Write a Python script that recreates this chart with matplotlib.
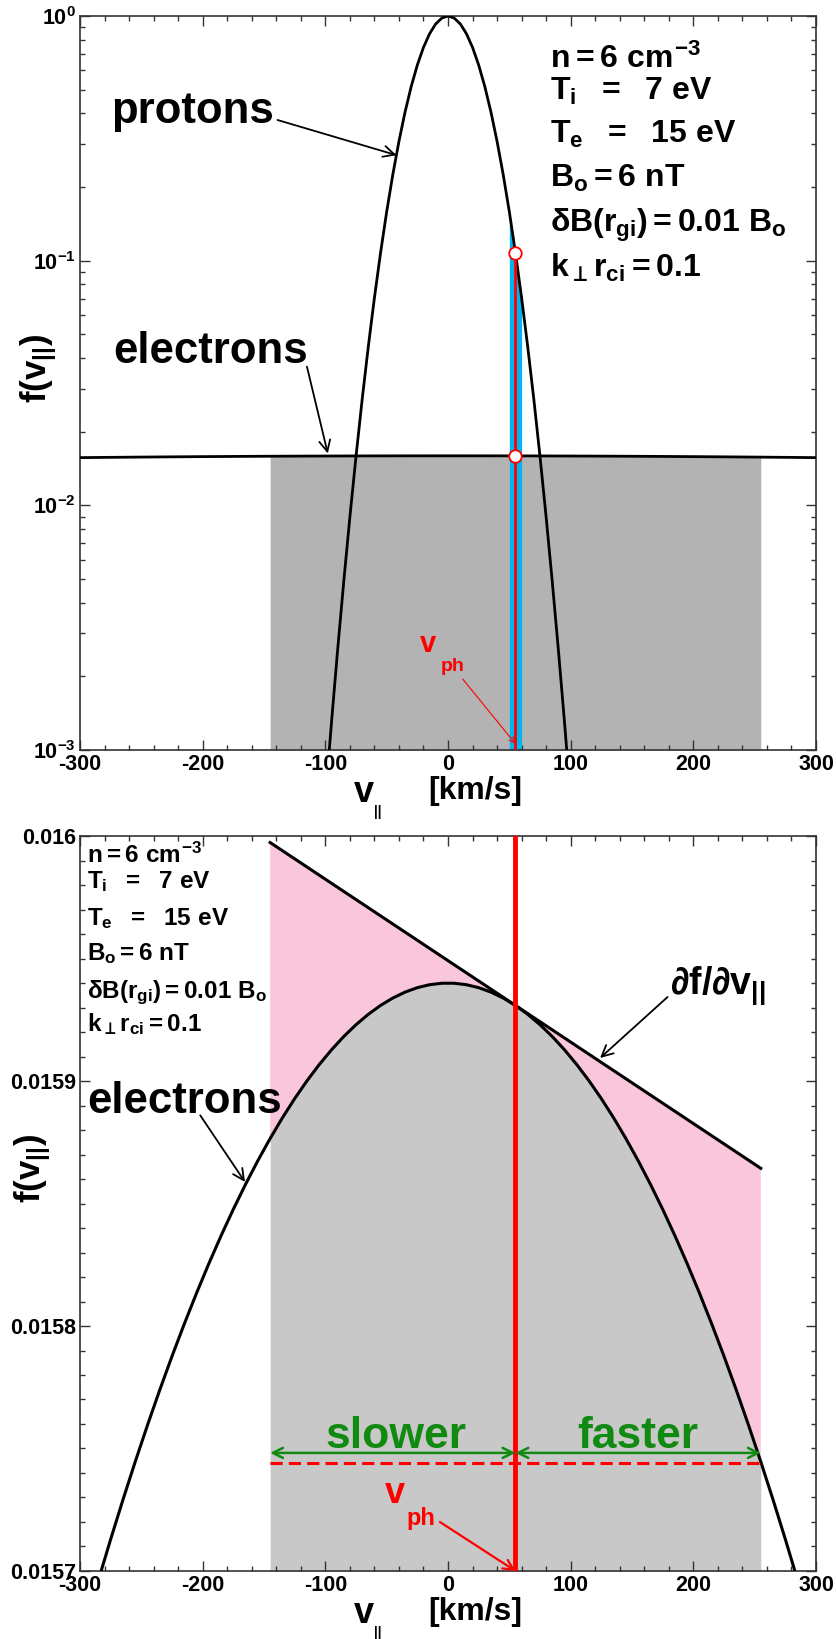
import numpy as np
import matplotlib.pyplot as plt

plt.rcParams['font.family'] = ['Liberation Sans', 'DejaVu Sans']
plt.rcParams['font.weight'] = 'bold'
plt.rcParams['mathtext.fontset'] = 'custom'
plt.rcParams['mathtext.rm'] = 'Liberation Sans:bold'
plt.rcParams['mathtext.it'] = 'Liberation Sans:bold'
plt.rcParams['mathtext.bf'] = 'Liberation Sans:bold'
plt.rcParams['mathtext.sf'] = 'Liberation Sans:bold'
plt.rcParams['mathtext.cal'] = 'STIXGeneral:bold'   # only used for the perp sign
plt.rcParams['mathtext.fallback'] = 'stix'

# proton distribution (normalised to 1)
v_p = [-100, -95, -90, -85, -80, -75, -70, -65, -60, -55, -50, -45, -40, -35, -30,
       -25, -20, -15, -10, -5, 0, 5, 10, 15, 20, 25, 30, 35, 40, 45, 50, 55, 60,
       65, 70, 75, 80, 85, 90, 95, 100]
f_p = [0.000631, 0.001294, 0.002559, 0.004875, 0.008954, 0.01585, 0.02704, 0.04446,
       0.07047, 0.1076, 0.1585, 0.2249, 0.3076, 0.4055, 0.5152, 0.6310, 0.7447,
       0.8472, 0.9290, 0.9817, 1.0, 0.9817, 0.9290, 0.8472, 0.7447, 0.6310, 0.5152,
       0.4055, 0.3076, 0.2249, 0.1585, 0.1076, 0.07047, 0.04446, 0.02704, 0.01585,
       0.008954, 0.004875, 0.002559, 0.001294, 0.000631]

# electron distribution
v_e = [-305, -295, -285, -275, -265, -255, -245, -235, -225, -215, -205, -195,
       -185, -175, -165, -155, -145, -135, -125, -115, -105, -95, -85, -75, -65,
       -55, -45, -35, -25, -15, -5, 5, 15, 25, 35, 45, 55, 65, 75, 85, 95, 105,
       115, 125, 135, 145, 155, 165, 175, 185, 195, 205, 215, 225, 235, 245, 255,
       265, 275, 285, 295, 305, 315]
f_e = [0.01566120, 0.01567903, 0.01569629, 0.01571297, 0.01572907, 0.01574459,
       0.01575953, 0.01577389, 0.01578766, 0.01580084, 0.01581343, 0.01582544,
       0.01583685, 0.01584767, 0.01585789, 0.01586752, 0.01587655, 0.01588499,
       0.01589282, 0.01590006, 0.01590670, 0.01591273, 0.01591817, 0.01592300,
       0.01592723, 0.01593086, 0.01593388, 0.01593630, 0.01593811, 0.01593932,
       0.01593992, 0.01593992, 0.01593932, 0.01593811, 0.01593630, 0.01593388,
       0.01593086, 0.01592723, 0.01592300, 0.01591817, 0.01591273, 0.01590670,
       0.01590006, 0.01589282, 0.01588499, 0.01587655, 0.01586752, 0.01585789,
       0.01584767, 0.01583685, 0.01582544, 0.01581343, 0.01580084, 0.01578766,
       0.01577389, 0.01575953, 0.01574459, 0.01572907, 0.01571297, 0.01569629,
       0.01567903, 0.01566120, 0.01564279]

# tangent (df/dv) at v_ph, end points
tan_v = [-145, 255]
tan_f = [0.01599735, 0.01586437]

v_ph = 55
res_lo, res_hi = -145, 255       # shaded resonance window
band_lo, band_hi = 50, 60        # blue band, top panel
slow_fast_y = 0.0157482
dash_y = 0.0157441

params = [r'$n = 6\ cm^{-3}$',
          r'$T_i\ \ =\ \ 7\ eV$',
          r'$T_e\ \ =\ \ 15\ eV$',
          r'$B_o = 6\ nT$',
          r'$\delta B(r_{gi}) = 0.01\ B_o$',
          r'$k_{\mathcal{\bot}} r_{ci} = 0.1$']

xticks = [-300, -200, -100, 0, 100, 200, 300]
ylim_top = (1e-3, 1.0)
ylim_bot = (0.0157, 0.016)
yticks_bot = [0.0157, 0.0158, 0.0159, 0.016]
yticklabels_bot = ['0.0157', '0.0158', '0.0159', '0.016']

v_p = np.array(v_p); f_p = np.array(f_p)
v_e = np.array(v_e); f_e = np.array(f_e)
reg = (v_e >= res_lo) & (v_e <= res_hi)

fig = plt.figure(figsize=(8.37, 16.39), dpi=100)
ax1 = fig.add_axes([0.0956, 0.5424, 0.8793, 0.4478])
ax2 = fig.add_axes([0.0956, 0.0415, 0.8793, 0.4484])


def style_axes(ax):
    ax.set_xlim(-300, 300)
    ax.set_xticks(xticks)
    ax.set_xticklabels([str(t) for t in xticks])
    ax.xaxis.set_minor_locator(plt.MultipleLocator(20))
    ax.tick_params(which='both', direction='in', top=True, right=True,
                   width=1, color='#333333', labelsize=15.5, pad=3)
    ax.tick_params(which='major', length=7)
    ax.tick_params(which='minor', length=3.5)
    for s in ax.spines.values():
        s.set_linewidth(1.2)
        s.set_color('#333333')
    # x label pieces
    ax.text(0.386, -0.0708, 'v', transform=ax.transAxes, ha='center',
            va='baseline', fontsize=26)
    ax.text(0.405, -0.0745, '||', transform=ax.transAxes, ha='center',
            va='top', fontsize=10)
    ax.text(0.473, -0.0668, '[km/s]', transform=ax.transAxes, ha='left',
            va='baseline', fontsize=23)


# ---------------- top panel ----------------
ax1.set_yscale('log')
ax1.set_ylim(*ylim_top)
style_axes(ax1)
ax1.set_yticks([1e-3, 1e-2, 1e-1, 1.0])
ax1.set_yticklabels([r'$10^{-3}$', r'$10^{-2}$', r'$10^{-1}$', r'$10^{0}$'])

ax1.fill_between(v_e[reg], ylim_top[0], f_e[reg], color='#b3b3b3', lw=0, zorder=1)
band = (v_p >= band_lo) & (v_p <= band_hi)
ax1.fill_between(v_p[band], ylim_top[0], f_p[band], color='#00b4ef', lw=0, zorder=2)
ax1.plot(v_e, f_e, color='k', lw=2, zorder=3)
ax1.plot(v_p, f_p, color='k', lw=2, zorder=3)
fp_ph = f_p[v_p == v_ph][0]
fe_ph = f_e[v_e == v_ph][0]
ax1.plot([v_ph, v_ph], [ylim_top[0], fp_ph], color='red', lw=2, zorder=4)
ax1.plot([v_ph, v_ph], [fp_ph, fe_ph], 'o', mfc='white', mec='red', ms=9, mew=1.3,
         zorder=5)

ax1.text(-275, 0.366, 'protons', fontsize=31.5, ha='left', va='baseline')
ax1.annotate('', xy=(-42, 0.27), xytext=(-139, 0.376),
             arrowprops=dict(arrowstyle='->', lw=1.3, color='k', shrinkA=0,
                             shrinkB=0, mutation_scale=20))
ax1.text(-273, 0.0383, 'electrons', fontsize=31.5, ha='left', va='baseline')
ax1.annotate('', xy=(-98, 0.0163), xytext=(-115, 0.0369),
             arrowprops=dict(arrowstyle='->', lw=1.3, color='k', shrinkA=0,
                             shrinkB=0, mutation_scale=20))

ax1.text(-16, 0.00251, 'v', color='red', fontsize=21, ha='center', va='baseline')
ax1.text(4, 0.0021, 'ph', color='red', fontsize=14, ha='center', va='baseline')
ax1.annotate('', xy=(v_ph, 1.06e-3), xytext=(12, 0.00195),
             arrowprops=dict(arrowstyle='->', lw=0.8, color='red', shrinkA=0,
                             shrinkB=0, mutation_scale=10))

top_base = [0.929, 0.886, 0.827, 0.767, 0.706, 0.644]
for s, yb in zip(params, top_base):
    ax1.text(0.6386, yb, s, transform=ax1.transAxes, fontsize=23, ha='left',
             va='baseline')
ax1.text(-0.0564, 0.520, r'$f(v_{||})$', transform=ax1.transAxes, rotation=90,
         ha='center', va='center', fontsize=25)

# ---------------- bottom panel ----------------
ax2.set_ylim(*ylim_bot)
style_axes(ax2)
ax2.set_yticks(yticks_bot)
ax2.set_yticklabels(yticklabels_bot)
ax2.yaxis.set_minor_locator(plt.MultipleLocator(0.00001))

ax2.fill_between(v_e[reg], ylim_bot[0], f_e[reg], color='#c8c8c8', lw=0, zorder=1)
pink_v = list(tan_v) + list(v_e[reg][::-1])
pink_f = list(tan_f) + list(f_e[reg][::-1])
ax2.fill(pink_v, pink_f, color='#f9c6dc', lw=0, zorder=1)
ax2.plot(v_e, f_e, color='k', lw=2.2, zorder=3)
ax2.plot(tan_v, tan_f, color='k', lw=2.2, zorder=3)
ax2.axvline(v_ph, color='red', lw=3.5, zorder=4)
ax2.plot([res_lo, res_hi], [dash_y, dash_y], color='red', lw=2.2, dashes=(4, 2),
         zorder=4)

green = '#118a11'
ax2.annotate('', xy=(res_lo, slow_fast_y), xytext=(v_ph, slow_fast_y),
             arrowprops=dict(arrowstyle='<->', lw=1.8, color=green, shrinkA=0,
                             shrinkB=0, mutation_scale=18), zorder=5)
ax2.annotate('', xy=(res_hi, slow_fast_y), xytext=(v_ph, slow_fast_y),
             arrowprops=dict(arrowstyle='<->', lw=1.8, color=green, shrinkA=0,
                             shrinkB=0, mutation_scale=18), zorder=5)
ax2.text(-42.5, 0.01575, 'slower', color=green, fontsize=32, ha='center',
         va='baseline', zorder=6)
ax2.text(155, 0.01575, 'faster', color=green, fontsize=32, ha='center',
         va='baseline', zorder=6)

ax2.text(-43, 0.0157278, 'v', color='red', fontsize=26, ha='center', va='baseline')
ax2.text(-22, 0.0157188, 'ph', color='red', fontsize=17, ha='center', va='baseline')
ax2.annotate('', xy=(v_ph, 0.0157), xytext=(-6.6, 0.01572),
             arrowprops=dict(arrowstyle='->', lw=1.6, color='red', shrinkA=0,
                             shrinkB=0, mutation_scale=18), zorder=6)

ax2.text(-294, 0.015887, 'electrons', fontsize=31.5, ha='left', va='baseline')
ax2.annotate('', xy=(-165.5, 0.0158588), xytext=(-202, 0.015886),
             arrowprops=dict(arrowstyle='->', lw=1.3, color='k', shrinkA=0,
                             shrinkB=0, mutation_scale=20))
ax2.text(180.8, 0.015936, r'$\partial f/\partial v_{||}$', fontsize=27, ha='left',
         va='baseline')
ax2.annotate('', xy=(124, 0.0159094), xytext=(179, 0.0159343),
             arrowprops=dict(arrowstyle='->', lw=1.3, color='k', shrinkA=0,
                             shrinkB=0, mutation_scale=20))

bot_base = [0.963, 0.929, 0.879, 0.831, 0.780, 0.734]
for s, yb in zip(params, bot_base):
    ax2.text(0.0095, yb, s, transform=ax2.transAxes, fontsize=17.5, ha='left',
             va='baseline')
ax2.text(-0.0645, 0.547, r'$f(v_{||})$', transform=ax2.transAxes, rotation=90,
         ha='center', va='center', fontsize=25)

fig.savefig('out.png', dpi=100)
